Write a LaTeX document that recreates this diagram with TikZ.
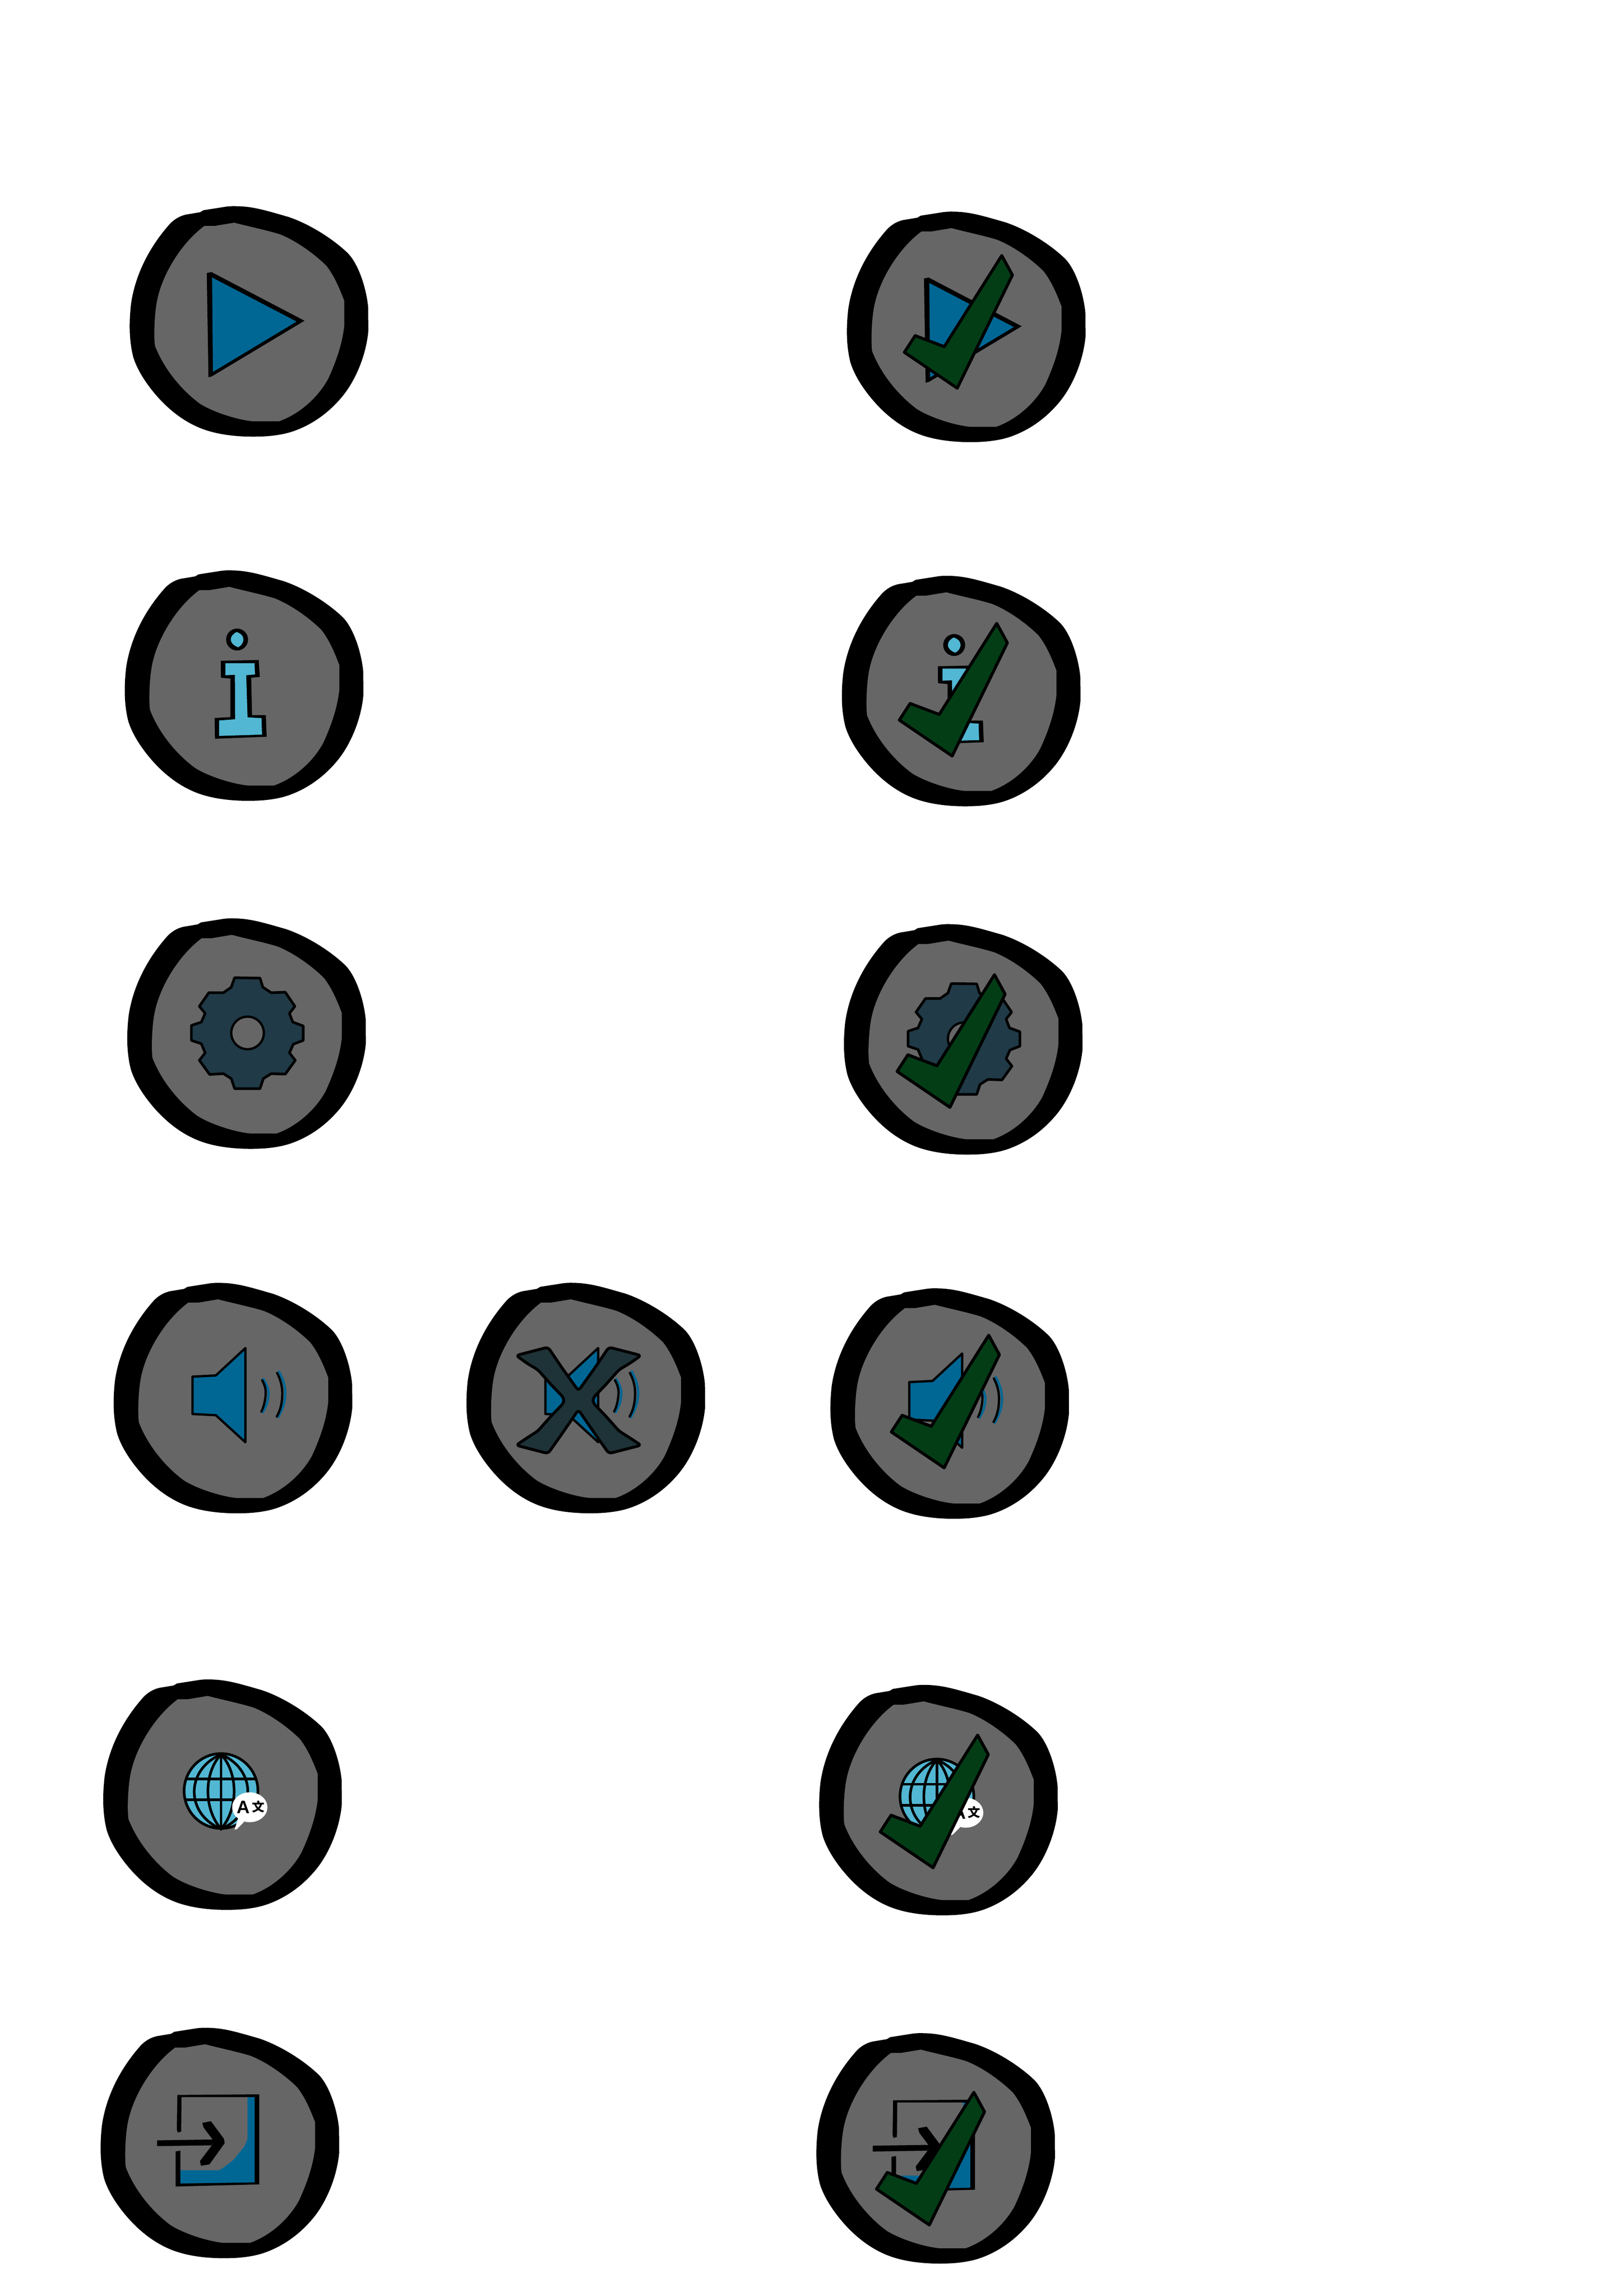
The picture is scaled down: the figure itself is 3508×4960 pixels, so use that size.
\documentclass[tikz,border=0pt]{standalone}
\usepackage{fontspec}
\setmainfont{Liberation Sans}
\newfontfamily\cjkfont{Noto Sans CJK SC}
\definecolor{shellgray}{HTML}{666666}
\definecolor{deepblue}{HTML}{006795}
\definecolor{skyblue}{HTML}{52B7D3}
\definecolor{geardark}{HTML}{203A47}
\definecolor{xdark}{HTML}{1E3338}
\definecolor{tickgreen}{HTML}{033D16}
\tikzset{
  gearline/.style={draw=black,line width=0.57pt,line join=round},
  spkline/.style={draw=black,line width=0.5pt,line join=round},
  waveblack/.style={draw=black,line width=0.5pt,line cap=round},
  waveblue/.style={draw=deepblue,line width=0.5pt,line cap=round},
  globeline/.style={draw=black,line width=0.57pt},
  tickline/.style={draw=black,fill=tickgreen,line width=0.65pt,line join=round},
  xline/.style={draw=black,fill=xdark,line width=0.62pt,line join=round,rounded corners=0.7pt}
}
% shell of every badge, in units of the zoomed first badge
\newcommand\shellshape{%
  \fill[black] (480,107) -- (500,95) -- (640,73) .. controls (660,71) and (680,70) .. (700,71) .. controls (800,72) and (880,98) .. (1010,135) .. controls (1130,175) and (1270,260) .. (1365,350) .. controls (1430,412) and (1480,560) .. (1491,680) -- (1492,820) .. controls (1480,960) and (1420,1110) .. (1340,1210) .. controls (1270,1297) and (1170,1380) .. (1040,1425) .. controls (990,1442) and (940,1450) .. (880,1455) .. controls (760,1462) and (630,1455) .. (520,1420) .. controls (400,1382) and (290,1300) .. (200,1190) .. controls (145,1123) and (100,1050) .. (78,980) .. controls (52,880) and (52,770) .. (64,660) .. controls (88,490) and (170,320) .. (300,175) .. controls (335,140) and (375,122) .. (415,118) -- cycle;
  \fill[shellgray] (505,190) -- (565,190) -- (685,170) .. controls (780,195) and (880,215) .. (960,240) .. controls (1060,280) and (1170,360) .. (1240,430) .. controls (1290,495) and (1320,570) .. (1347,640) -- (1347,790) .. controls (1335,900) and (1300,1000) .. (1250,1110) .. controls (1190,1220) and (1080,1320) .. (955,1365) -- (795,1365) .. controls (700,1355) and (560,1310) .. (480,1260) .. controls (390,1195) and (270,1070) .. (208,910) .. controls (200,850) and (205,700) .. (225,620) .. controls (260,470) and (370,290) .. (505,190) -- cycle;
}
\newcommand\myBadge[3]{\begin{scope}[shift={(#1,#2)},x=0.0359pt,y=-0.0359pt]\shellshape #3\end{scope}}
\newcommand\iconPlay{%
  \fill[black] (520,473) -- (548,467) -- (1108,760) -- (550,1095) -- (530,1100) -- cycle;
  \fill[deepblue] (552,500) -- (1060,765) -- (557,1068) -- cycle;
}
\newcommand\iconInfo{\begin{scope}[shift={(2,37)}]
  \fill[black] (730,450) circle [radius=66];
  \fill[skyblue] (728,405) .. controls (755,415) and (770,430) .. (768,455) .. controls (765,475) and (750,490) .. (737,496) .. controls (715,490) and (692,470) .. (692,450) .. controls (692,430) and (710,412) .. (728,405) -- cycle;
  \fill[black] (632,578) -- (860,573) -- (867,675) -- (815,680) -- (820,905) -- (903,905) -- (908,1035) -- (597,1047) -- (595,922) -- (690,917) -- (690,685) -- (633,680) -- cycle;
  \fill[skyblue] (660,592) -- (835,592) -- (838,660) -- (785,665) -- (793,918) -- (877,923) -- (880,1022) -- (622,1030) -- (622,937) -- (718,930) -- (717,662) -- (660,665) -- cycle;
\end{scope}}
\newcommand\iconGear{\begin{scope}[shift={(-13,60)}]
  \path[gearline,fill=geardark] (715,368) -- (868,370) -- (885,425) -- (935,458) -- (1020,455) -- (1078,540) -- (1045,582) -- (1065,635) -- (1128,658) -- (1128,745) -- (1068,768) -- (1045,820) -- (1080,865) -- (1020,948) -- (935,945) -- (888,975) -- (868,1035) -- (715,1035) -- (695,975) -- (648,945) -- (565,950) -- (503,865) -- (538,820) -- (515,765) -- (455,745) -- (455,655) -- (515,635) -- (538,582) -- (503,540) -- (560,458) -- (648,458) -- (695,425) -- cycle;
  \path[draw=black,line width=0.5pt,fill=shellgray] (793,700) circle [radius=98];
\end{scope}}
\newcommand\iconSpeaker{\begin{scope}[shift={(13,95)}]
  \path[spkline,fill=deepblue] (518,540) -- (658,533) -- (836,368) -- (836,935) -- (658,772) -- (518,765) -- cycle;
  \draw[waveblue] (945,555) .. controls (965,590) and (978,620) .. (975,650) .. controls (972,695) and (958,725) .. (940,755);
  \draw[waveblue] (1038,510) .. controls (1060,550) and (1076,590) .. (1076,640) .. controls (1076,700) and (1055,745) .. (1032,785);
  \draw[waveblack] (937,562) .. controls (952,590) and (960,615) .. (958,645) .. controls (955,690) and (945,725) .. (932,750);
  \draw[waveblack] (1027,518) .. controls (1046,555) and (1058,595) .. (1058,640) .. controls (1058,700) and (1045,745) .. (1025,780);
\end{scope}}
\newcommand\iconCross{\begin{scope}[shift={(35,123)}]
  \path[xline] (695,597) -- (790,465) -- (878,335) -- (1072,385) -- (1000,435) -- (940,470) -- (860,560) -- (783,640) -- (783,670) -- (860,750) -- (940,840) -- (1000,878) -- (1072,925) -- (878,975) -- (790,850) -- (695,712) -- (600,850) -- (512,975) -- (320,925) -- (390,878) -- (450,840) -- (530,750) -- (607,670) -- (607,640) -- (530,560) -- (450,470) -- (390,435) -- (320,385) -- (512,335) -- (600,465) -- cycle;
\end{scope}}
\newcommand\iconGlobe{\begin{scope}[shift={(20,132)}]
  \fill[skyblue] (745,610) ellipse [x radius=222,y radius=225];
  \draw[globeline] (745,390) .. controls (640,500) and (640,720) .. (745,838) .. controls (850,720) and (850,500) .. (745,390);
  \draw[globeline] (745,390) .. controls (530,480) and (530,750) .. (745,838) .. controls (960,750) and (960,480) .. (745,390);
  \draw[globeline] (745,390) -- (745,838);
  \draw[globeline] (535,537) -- (955,537);
  \draw[globeline] (535,663) -- (955,663);
  \draw[globeline] (745,610) ellipse [x radius=222,y radius=225];
  \fill[white] (918,708) ellipse [x radius=106,y radius=90];
  \fill[white] (850,770) -- (826,843) -- (840,840) -- (885,795) -- cycle;
  \node[inner sep=0pt,font=\fontsize{3.9pt}{4pt}\selectfont\bfseries] (bubbleA) at (880,708) {A};
  \node[inner sep=0pt,font=\cjkfont\fontsize{2.7pt}{3pt}\selectfont\bfseries] (bubbleZ) at (968,705) {文};
\end{scope}}
\newcommand\iconExit{\begin{scope}[shift={(8,153)}]
  \fill[deepblue] (527,775) -- (760,775) .. controls (790,760) and (820,735) .. (850,710) -- (915,630) -- (932,585) -- (932,335) -- (975,335) -- (975,850) -- (527,855) -- cycle;
  \fill[black] (510,322) -- (1003,318) -- (1003,860) -- (500,873) -- (500,662) -- (528,657) -- (528,855) -- (975,848) -- (975,335) -- (535,335) -- (533,543) -- (512,548) -- (507,530) -- cycle;
  \fill[black] (388,595) -- (725,590) -- (718,625) -- (388,630) -- cycle;
  \fill[black] (660,490) -- (712,480) -- (790,585) -- (795,612) -- (703,740) -- (652,748) -- (646,720) -- (720,622) -- (722,590) -- (668,518) -- cycle;
\end{scope}}
\newcommand\tickMark[2]{\begin{scope}[shift={(#1,#2)}]
  \path[tickline] (467,817) -- (642,883) -- (988,335) -- (1052,452) -- (720,1133) -- (402,917) -- cycle;
\end{scope}}
\begin{document}
\begin{tikzpicture}[x=0.1pt,y=-0.1pt]
\useasboundingbox (0,0) rectangle (3508,4960);
\fill[white] (0,0) rectangle (3508,4960);
% left column
\myBadge{260}{420}{\iconPlay}
\myBadge{249.3}{1206.7}{\iconInfo}
\myBadge{254.7}{1958.5}{\iconGear}
\myBadge{225.3}{2745.9}{\iconSpeaker}
\myBadge{197.1}{4355.1}{\iconExit}
\myBadge{202.8}{3602.6}{\iconGlobe}
% middle badge
\myBadge{987.4}{2745.8}{\iconSpeaker\iconCross}
% right column
\myBadge{1809.2}{431.8}{\iconPlay\tickMark{0}{0}}
\myBadge{1798.3}{1218.5}{\iconInfo\tickMark{0}{22}}
\myBadge{1802.8}{1971}{\iconGear\tickMark{-26}{40}}
\myBadge{1773.5}{2757.7}{\iconSpeaker\tickMark{21}{18}}
\myBadge{1749.2}{3614.4}{\iconGlobe\tickMark{22}{38}}
\myBadge{1743.2}{4366.7}{\iconExit\tickMark{16}{92}}
\end{tikzpicture}
\end{document}
